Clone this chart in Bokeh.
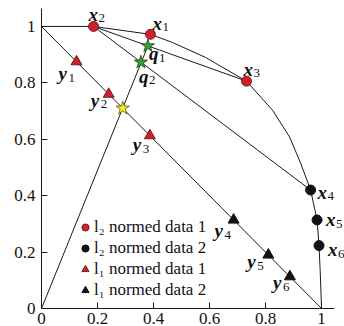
from bokeh.plotting import figure
from bokeh.models import Range1d, ColumnDataSource, Legend, LegendItem, FixedTicker, LabelSet
from bokeh.embed import file_html
from bokeh.resources import INLINE

# ---- data ----
# boundary curve (top edge then arc down to (1, 0))
curve_x = [0.0, 0.186, 0.389, 0.468, 0.586, 0.732, 0.825, 0.886, 0.925, 0.961, 0.984, 0.991, 0.995, 1.0]
curve_y = [1.0, 1.0, 0.972, 0.943, 0.890, 0.806, 0.703, 0.608, 0.516, 0.420, 0.314, 0.223, 0.138, 0.0]

# l2 normed data 1 (x1, x2, x3)
l2d1_x = [0.389, 0.186, 0.732]
l2d1_y = [0.972, 1.000, 0.806]
# l2 normed data 2 (x4, x5, x6)
l2d2_x = [0.961, 0.984, 0.991]
l2d2_y = [0.420, 0.314, 0.223]
# l1 normed data 1 (y1, y2, y3)
l1d1_x = [0.125, 0.240, 0.387]
l1d1_y = [0.875, 0.760, 0.613]
# l1 normed data 2 (y4, y5, y6)
l1d2_x = [0.686, 0.810, 0.887]
l1d2_y = [0.314, 0.190, 0.113]
# q points (green stars)
q_x = [0.380, 0.355]
q_y = [0.931, 0.873]
# yellow star
ys_x = [0.290]
ys_y = [0.710]
# l1 line
l1line_x = [0.0, 1.0]
l1line_y = [1.0, 0.0]

ticks = [0, 0.2, 0.4, 0.6, 0.8, 1.0]
tick_labels = ["0", "0.2", "0.4", "0.6", "0.8", "1"]

legend_labels = ["l\u2082 normed data 1", "l\u2082 normed data 2",
                 "l\u2081 normed data 1", "l\u2081 normed data 2"]

# point labels
lab_letters = ["x", "x", "x", "x", "x", "x", "y", "y", "y", "y", "y", "y", "q", "q"]
lab_subs = ["1", "2", "3", "4", "5", "6", "1", "2", "3", "4", "5", "6", "1", "2"]
lab_x = l2d1_x + l2d2_x + l1d1_x + l1d2_x + q_x
lab_y = l2d1_y + l2d2_y + l1d1_y + l1d2_y + q_y
# styling offsets (pixels, screen: +dx right, +dy down)
lab_dx = [2, -5, -3, 7, 9, 9, -18, -18, -17, -19, -21, -17, 1, -2]
lab_dy = [-11, -12, -12, 2, 0, 4, 12, 6, 9, 11, 7, 6, 8, 14]

FONT = "Liberation Serif"
LINE = "#1a1a1a"

p = figure(width=344, height=326, output_backend="svg", toolbar_location=None,
           x_range=Range1d(0, 1.082), y_range=Range1d(0, 1.0636),
           min_border_left=41, min_border_right=0, min_border_top=8, min_border_bottom=17)
p.outline_line_color = None
p.xgrid.visible = False
p.ygrid.visible = False
p.background_fill_color = "white"

for ax in (p.xaxis[0], p.yaxis[0]):
    ax.ticker = FixedTicker(ticks=ticks)
    ax.major_label_overrides = {t: l for t, l in zip(ticks, tick_labels)}
    ax.minor_tick_line_color = None
    ax.major_tick_in = 6
    ax.major_tick_out = 0
    ax.axis_line_color = LINE
    ax.major_tick_line_color = LINE
    ax.major_label_text_font = FONT
    ax.major_label_text_font_size = "17px"
    ax.major_label_text_color = "#111111"
p.xaxis.bounds = (0, 1.046)
p.xaxis.major_label_standoff = 4
p.yaxis.major_label_standoff = 6

# lines
p.line(curve_x, curve_y, line_color=LINE, line_width=1)
p.line(l1line_x, l1line_y, line_color=LINE, line_width=1)
p.line([l2d1_x[1], l2d1_x[2]], [l2d1_y[1], l2d1_y[2]], line_color=LINE, line_width=1)
p.line([l2d1_x[1], l2d2_x[0]], [l2d1_y[1], l2d2_y[0]], line_color=LINE, line_width=1)
p.line([0, q_x[0]], [0, q_y[0]], line_color=LINE, line_width=1)

# markers
r1 = p.scatter(l2d1_x, l2d1_y, marker="circle", size=10, fill_color="#d0202a", line_color="#5a0a0e", line_width=0.8)
r2 = p.scatter(l2d2_x, l2d2_y, marker="circle", size=10, fill_color="#111111", line_color="#111111")
r3 = p.scatter(l1d1_x, l1d1_y, marker="triangle", size=11, fill_color="#d0202a", line_color="#5a0a0e", line_width=0.8)
r4 = p.scatter(l1d2_x, l1d2_y, marker="triangle", size=11, fill_color="#111111", line_color="#111111")
p.scatter(q_x, q_y, marker="star", size=14, fill_color="#3f9a3a", line_color="#1d4a1d", line_width=0.8)
p.scatter(ys_x, ys_y, marker="star", size=14, fill_color="#f5ee2a", line_color="#555500", line_width=0.8)

# point labels
src = ColumnDataSource(dict(x=lab_x, y=lab_y, t=lab_letters, s=lab_subs,
                            dx=lab_dx, dy=[-d for d in lab_dy],
                            sdx=[d + 10 for d in lab_dx], sdy=[-(d + 4) for d in lab_dy]))
p.add_layout(LabelSet(x="x", y="y", text="t", x_offset="dx", y_offset="dy", source=src,
                      text_font=FONT, text_font_style="bold italic", text_font_size="19px",
                      text_align="left", text_baseline="middle", text_color="#111111"))
p.add_layout(LabelSet(x="x", y="y", text="s", x_offset="sdx", y_offset="sdy", source=src,
                      text_font=FONT, text_font_size="13px",
                      text_align="left", text_baseline="middle", text_color="#111111"))

legend = Legend(items=[LegendItem(label=legend_labels[0], renderers=[r1]),
                       LegendItem(label=legend_labels[1], renderers=[r2]),
                       LegendItem(label=legend_labels[2], renderers=[r3]),
                       LegendItem(label=legend_labels[3], renderers=[r4])],
                location=(35, 8), glyph_width=18, glyph_height=20, label_height=20,
                spacing=1, padding=0, margin=0, label_standoff=0,
                border_line_alpha=0, background_fill_alpha=0,
                label_text_font=FONT, label_text_font_size="17px", label_text_color="#111111")
p.add_layout(legend)

open("out.html", "w").write(file_html(p, INLINE))
